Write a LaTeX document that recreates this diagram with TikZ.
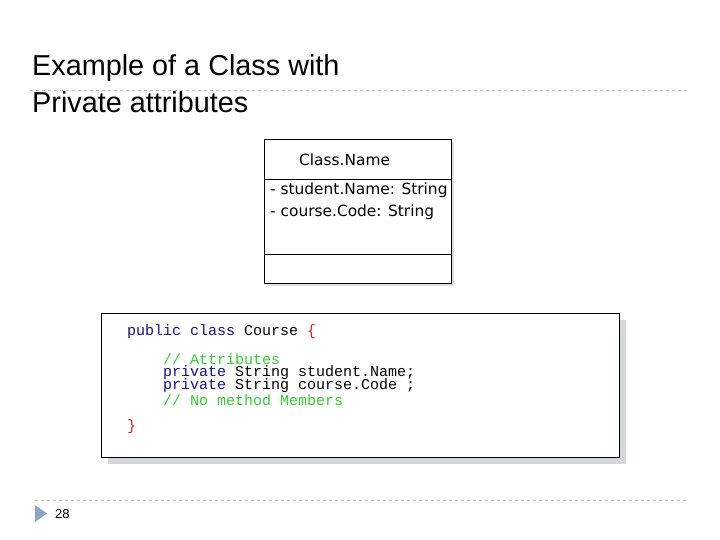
\documentclass[tikz,border=0pt]{standalone}
\usepackage{fontspec}
\setmainfont{Liberation Sans}
\newfontfamily\codefont{Liberation Mono}
\newfontfamily\umlfont{DejaVu Sans}
\definecolor{kwc}{RGB}{20,20,120}
\definecolor{cmc}{RGB}{60,200,60}
\definecolor{brc}{RGB}{190,40,40}
\definecolor{rulec}{RGB}{185,190,195}
\definecolor{tric}{RGB}{140,165,195}
\tikzset{x=1pt,y=-1pt,
 sep/.style={draw=rulec,dashed,line width=0.8pt},
 box/.style={draw=black,line width=0.8pt},
 code/.style={anchor=west,inner sep=0,font=\codefont\fontsize{15}{17}\selectfont},
 uml/.style={anchor=west,inner sep=0,font=\umlfont\fontsize{15.4}{18}\selectfont},
 ttl/.style={anchor=west,inner sep=0,font=\fontsize{28.8}{33}\selectfont}}
\begin{document}
\begin{tikzpicture}
\useasboundingbox (0,0) rectangle (720,540);
\node[ttl] (t1) at (32,68) {Example of a Class with};
\node[ttl] (t2) at (32,102) {Private attributes};
\coordinate (l1a) at (30,90); \coordinate (l1b) at (688,90);
\draw[sep] (l1a) -- (l1b);
% class box
\fill[gray!25] (267,142) rectangle (454,286);
\draw[box,fill=white] (264,139) rectangle (451,283);
\draw[box] (264,179) -- (451,179);
\draw[box] (264,254) -- (451,254);
\node[uml] (cn) at (299,160) {Class.Name};
\node[uml] (a1) at (270,190) {- student.Name: String};
\node[uml] (a2) at (270,212) {- course.Code: String};
% code box
\fill[rulec!60] (108,320) rectangle (626,464);
\draw[box,fill=white] (101,313) rectangle (619,457);
\node[code,text=kwc] (c1) at (127,332) {public class \textcolor{black}{Course} \textcolor{brc}{\{}};
\node[code,text=cmc] (c2) at (163,359) {// Attributes};
\node[code,text=kwc] (c3) at (163,373) {private \textcolor{black}{String student.Name;}};
\node[code,text=kwc] (c4) at (163,386) {private \textcolor{black}{String course.Code ;}};
\node[code,text=cmc] (c5) at (163,400) {// No method Members};
\node[code,text=brc] (c6) at (127,427) {\}};
% footer
\coordinate (l2a) at (35,500); \coordinate (l2b) at (688,500);
\draw[sep] (l2a) -- (l2b);
\fill[tric] (35,505) -- (47,513.5) -- (35,522) -- cycle;
\node[anchor=west,inner sep=0,font=\fontsize{13}{15}\selectfont] (pg) at (55,514) {28};
\end{tikzpicture}
\end{document}
